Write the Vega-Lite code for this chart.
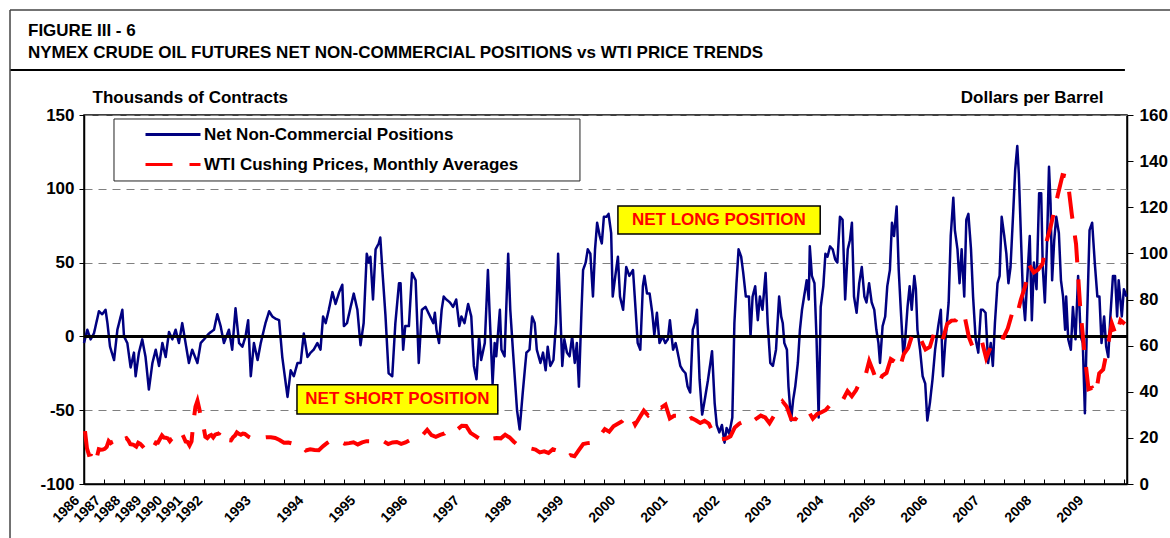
{
"$schema":"https://vega.github.io/schema/vega-lite/v6.json",
"width":1043,"height":369,
"autosize":{"type":"none"},
"padding":{"left":84,"top":115,"right":43,"bottom":54},
"background":"white",
"datasets":{
"cot":[
{"t":1986.00,"v":-4.5},{"t":1986.14,"v":4.5},{"t":1986.28,"v":-2},{"t":1986.42,"v":2},{"t":1986.63,"v":17},{"t":1986.77,"v":15},{"t":1986.91,"v":18},{"t":1986.99,"v":9},{"t":1987.10,"v":-7},{"t":1987.27,"v":-16},{"t":1987.41,"v":4.5},{"t":1987.62,"v":18},{"t":1987.69,"v":0},{"t":1987.83,"v":-4.5},{"t":1987.97,"v":-21},{"t":1988.11,"v":-11},{"t":1988.18,"v":-27},{"t":1988.32,"v":-11},{"t":1988.46,"v":-2},{"t":1988.60,"v":-14},{"t":1988.74,"v":-36},{"t":1988.89,"v":-18},{"t":1989.03,"v":-9},{"t":1989.17,"v":-20},{"t":1989.31,"v":-4.5},{"t":1989.45,"v":-14},{"t":1989.59,"v":3},{"t":1989.73,"v":-2},{"t":1989.87,"v":4.5},{"t":1990.01,"v":-4.5},{"t":1990.15,"v":9},{"t":1990.29,"v":-4.5},{"t":1990.43,"v":-18},{"t":1990.57,"v":-9},{"t":1990.79,"v":-18},{"t":1990.93,"v":-4.5},{"t":1991.07,"v":-2},{"t":1991.28,"v":2},{"t":1991.49,"v":4.5},{"t":1991.63,"v":15},{"t":1991.77,"v":7},{"t":1991.91,"v":-4.5},{"t":1992.12,"v":4.5},{"t":1992.26,"v":-9},{"t":1992.40,"v":19},{"t":1992.55,"v":-4.5},{"t":1992.69,"v":-7},{"t":1992.81,"v":0},{"t":1992.86,"v":11},{"t":1992.91,"v":-27},{"t":1992.97,"v":-4.5},{"t":1993.04,"v":-16},{"t":1993.10,"v":-4.5},{"t":1993.19,"v":9},{"t":1993.26,"v":17},{"t":1993.32,"v":13.5},{"t":1993.38,"v":12},{"t":1993.45,"v":11},{"t":1993.51,"v":-14},{"t":1993.61,"v":-41},{"t":1993.67,"v":-23},{"t":1993.73,"v":-27},{"t":1993.80,"v":-18},{"t":1993.86,"v":-18},{"t":1993.92,"v":2},{"t":1993.99,"v":-14},
{"t":1994.05,"v":-11},{"t":1994.11,"v":-9},{"t":1994.18,"v":-4.5},{"t":1994.24,"v":-9},{"t":1994.29,"v":13.5},{"t":1994.34,"v":9},{"t":1994.40,"v":18},{"t":1994.47,"v":30},{"t":1994.53,"v":22},{"t":1994.60,"v":30},{"t":1994.66,"v":35},{"t":1994.69,"v":7},{"t":1994.75,"v":9},{"t":1994.82,"v":20},{"t":1994.88,"v":29},{"t":1994.95,"v":18},{"t":1995.01,"v":-6},{"t":1995.07,"v":9},{"t":1995.13,"v":56},{"t":1995.17,"v":50},{"t":1995.20,"v":54},{"t":1995.25,"v":25},{"t":1995.30,"v":59},{"t":1995.33,"v":61},{"t":1995.36,"v":63},{"t":1995.39,"v":67},{"t":1995.43,"v":45},{"t":1995.49,"v":14},{"t":1995.55,"v":-25},{"t":1995.62,"v":-27},{"t":1995.68,"v":9},{"t":1995.75,"v":36},{"t":1995.78,"v":36},{"t":1995.83,"v":-9},{"t":1995.87,"v":7},{"t":1995.94,"v":7},{"t":1996.00,"v":43},{"t":1996.07,"v":38},{"t":1996.13,"v":-18},{"t":1996.19,"v":18},{"t":1996.26,"v":20},
{"t":1996.41,"v":9},{"t":1996.44,"v":16},{"t":1996.47,"v":4.5},{"t":1996.52,"v":-4.5},{"t":1996.57,"v":18},{"t":1996.61,"v":27},{"t":1996.66,"v":25},{"t":1996.73,"v":23},{"t":1996.79,"v":20},{"t":1996.85,"v":25},{"t":1996.91,"v":7},{"t":1996.95,"v":13.5},{"t":1997.01,"v":9},{"t":1997.08,"v":22},{"t":1997.14,"v":13.5},{"t":1997.19,"v":-20},{"t":1997.24,"v":-29},{"t":1997.29,"v":0},{"t":1997.33,"v":-16},{"t":1997.40,"v":-4.5},{"t":1997.46,"v":45},{"t":1997.49,"v":18},{"t":1997.55,"v":-32},{"t":1997.59,"v":-4.5},{"t":1997.62,"v":-13.5},{"t":1997.69,"v":18},{"t":1997.72,"v":-9},{"t":1997.78,"v":-13.5},{"t":1997.85,"v":56},{"t":1997.89,"v":18},{"t":1997.94,"v":-9},{"t":1998.02,"v":-50},{"t":1998.07,"v":-63},{"t":1998.13,"v":-38},{"t":1998.20,"v":-11},{"t":1998.26,"v":-9},{"t":1998.31,"v":13.5},{"t":1998.36,"v":9},{"t":1998.40,"v":-9},{"t":1998.47,"v":-18},{"t":1998.52,"v":-11},{"t":1998.57,"v":-23},{"t":1998.61,"v":-7},{"t":1998.66,"v":-20},{"t":1998.72,"v":-16},{"t":1998.77,"v":9},{"t":1998.81,"v":56},{"t":1998.85,"v":18},{"t":1998.89,"v":-20},{"t":1998.93,"v":-2},{"t":1998.98,"v":-11},{"t":1999.03,"v":-13.5},{"t":1999.08,"v":0},{"t":1999.13,"v":-18},{"t":1999.17,"v":-4.5},{"t":1999.21,"v":-34},{"t":1999.26,"v":18},{"t":1999.29,"v":45},{"t":1999.34,"v":50},{"t":1999.38,"v":59},{"t":1999.43,"v":56},{"t":1999.48,"v":27},{"t":1999.52,"v":59},{"t":1999.56,"v":77},{"t":1999.61,"v":68},{"t":1999.65,"v":63},{"t":1999.69,"v":81},{"t":1999.74,"v":81},{"t":1999.78,"v":83},{"t":1999.83,"v":70},{"t":1999.86,"v":27},{"t":1999.91,"v":41},{"t":1999.96,"v":54},
{"t":2000.00,"v":27},{"t":2000.06,"v":18},{"t":2000.12,"v":47},{"t":2000.18,"v":41},{"t":2000.25,"v":45},{"t":2000.30,"v":18},{"t":2000.34,"v":-4.5},{"t":2000.39,"v":-9},{"t":2000.44,"v":34},{"t":2000.47,"v":41},{"t":2000.52,"v":29},{"t":2000.57,"v":29},{"t":2000.62,"v":16},{"t":2000.66,"v":1},{"t":2000.71,"v":16},{"t":2000.76,"v":-4.5},{"t":2000.82,"v":0},{"t":2000.87,"v":-4.5},{"t":2000.92,"v":-2},{"t":2000.96,"v":11},{"t":2001.02,"v":-9},{"t":2001.07,"v":-4.5},{"t":2001.11,"v":-11},{"t":2001.16,"v":-20},{"t":2001.21,"v":-23},{"t":2001.26,"v":-25},{"t":2001.30,"v":-34},{"t":2001.35,"v":-38},{"t":2001.40,"v":4.5},{"t":2001.44,"v":9},{"t":2001.48,"v":18},{"t":2001.53,"v":-29},{"t":2001.58,"v":-53},{"t":2001.62,"v":-45},{"t":2001.69,"v":-30},{"t":2001.77,"v":-10},{"t":2001.82,"v":-45},{"t":2001.86,"v":-60},{"t":2001.91,"v":-65},{"t":2001.96,"v":-60},{"t":2002.01,"v":-72},{"t":2002.05,"v":-62},{"t":2002.10,"v":-66},{"t":2002.16,"v":-55},{"t":2002.20,"v":9},{"t":2002.24,"v":36},{"t":2002.28,"v":59},{"t":2002.33,"v":54},{"t":2002.37,"v":43},{"t":2002.42,"v":27},{"t":2002.48,"v":27},{"t":2002.51,"v":0},{"t":2002.55,"v":27},{"t":2002.60,"v":34},{"t":2002.65,"v":11},{"t":2002.69,"v":27},{"t":2002.74,"v":18},{"t":2002.80,"v":43},{"t":2002.84,"v":9},{"t":2002.89,"v":-18},{"t":2002.94,"v":-20},{"t":2003.00,"v":-9},
{"t":2003.06,"v":27},{"t":2003.10,"v":13.5},{"t":2003.13,"v":9},{"t":2003.16,"v":-4.5},{"t":2003.21,"v":-9},{"t":2003.24,"v":-34},{"t":2003.29,"v":-57},{"t":2003.33,"v":-43},{"t":2003.37,"v":-34},{"t":2003.42,"v":-18},{"t":2003.46,"v":4.5},{"t":2003.50,"v":18},{"t":2003.54,"v":27},{"t":2003.59,"v":38},{"t":2003.63,"v":25},{"t":2003.65,"v":61},{"t":2003.69,"v":41},{"t":2003.74,"v":36},{"t":2003.78,"v":-2},{"t":2003.82,"v":-55},{"t":2003.86,"v":20},{"t":2003.91,"v":34},{"t":2003.95,"v":56},{"t":2003.99,"v":54},{"t":2004.04,"v":61},{"t":2004.09,"v":59},{"t":2004.14,"v":52},{"t":2004.18,"v":50},{"t":2004.23,"v":81},{"t":2004.28,"v":79},{"t":2004.33,"v":25},{"t":2004.38,"v":59},{"t":2004.42,"v":65},{"t":2004.46,"v":77},{"t":2004.50,"v":27},{"t":2004.55,"v":16},{"t":2004.60,"v":36},{"t":2004.65,"v":47},{"t":2004.70,"v":27},{"t":2004.74,"v":23},{"t":2004.79,"v":36},{"t":2004.84,"v":23},{"t":2004.89,"v":18},{"t":2004.93,"v":4.5},{"t":2004.97,"v":-4.5},{"t":2005.00,"v":-18},{"t":2005.05,"v":7},{"t":2005.10,"v":13.5},{"t":2005.14,"v":34},{"t":2005.19,"v":45},{"t":2005.23,"v":77},{"t":2005.27,"v":68},{"t":2005.32,"v":88},{"t":2005.36,"v":45},{"t":2005.40,"v":18},{"t":2005.45,"v":-13.5},{"t":2005.48,"v":-4.5},{"t":2005.53,"v":20},{"t":2005.57,"v":34},{"t":2005.61,"v":18},{"t":2005.66,"v":41},{"t":2005.69,"v":32},{"t":2005.72,"v":4.5},{"t":2005.77,"v":-9},{"t":2005.82,"v":-27},{"t":2005.87,"v":-32},{"t":2005.91,"v":-57},{"t":2005.96,"v":-45},{"t":2006.01,"v":-29},{"t":2006.06,"v":-9},{"t":2006.12,"v":7},{"t":2006.17,"v":18},{"t":2006.21,"v":-27},{"t":2006.26,"v":-2},{"t":2006.32,"v":23},{"t":2006.36,"v":68},{"t":2006.41,"v":94},{"t":2006.44,"v":72},{"t":2006.49,"v":59},{"t":2006.53,"v":36},{"t":2006.57,"v":59},{"t":2006.62,"v":27},{"t":2006.66,"v":79},{"t":2006.70,"v":83},{"t":2006.75,"v":59},{"t":2006.79,"v":27},{"t":2006.84,"v":-2},{"t":2006.89,"v":-11},{"t":2006.94,"v":18},{"t":2006.98,"v":18},
{"t":2007.03,"v":16},{"t":2007.08,"v":-18},{"t":2007.13,"v":-4.5},{"t":2007.17,"v":-20},{"t":2007.21,"v":9},{"t":2007.26,"v":36},{"t":2007.30,"v":41},{"t":2007.34,"v":81},{"t":2007.39,"v":68},{"t":2007.43,"v":56},{"t":2007.47,"v":36},{"t":2007.51,"v":47},{"t":2007.56,"v":83},{"t":2007.60,"v":113},{"t":2007.64,"v":129},{"t":2007.67,"v":110},{"t":2007.71,"v":68},{"t":2007.75,"v":27},{"t":2007.79,"v":11},{"t":2007.83,"v":38},{"t":2007.88,"v":68},{"t":2007.92,"v":11},{"t":2007.96,"v":50},{"t":2008.01,"v":32},{"t":2008.06,"v":97},{"t":2008.10,"v":97},{"t":2008.13,"v":47},{"t":2008.17,"v":23},{"t":2008.21,"v":61},{"t":2008.25,"v":115},{"t":2008.28,"v":90},{"t":2008.31,"v":38},{"t":2008.35,"v":65},{"t":2008.39,"v":81},{"t":2008.44,"v":70},{"t":2008.48,"v":38},{"t":2008.52,"v":27},{"t":2008.56,"v":4.5},{"t":2008.58,"v":27},{"t":2008.62,"v":-2},{"t":2008.67,"v":-9},{"t":2008.71,"v":20},{"t":2008.76,"v":-2},{"t":2008.81,"v":41},{"t":2008.86,"v":0},{"t":2008.90,"v":-4.5},{"t":2008.94,"v":-52},{"t":2008.98,"v":9},{"t":2009.03,"v":72},{"t":2009.08,"v":77},{"t":2009.13,"v":50},{"t":2009.18,"v":27},{"t":2009.22,"v":27},{"t":2009.26,"v":-4.5},{"t":2009.31,"v":13.5},{"t":2009.35,"v":-7},{"t":2009.39,"v":-14},{"t":2009.43,"v":13.5},{"t":2009.48,"v":41},{"t":2009.52,"v":41},{"t":2009.56,"v":13.5},{"t":2009.59,"v":38},{"t":2009.65,"v":13.5},{"t":2009.69,"v":32},{"t":2009.74,"v":27}
],
"wti":[
{"t":1986.042,"p":22.93},{"t":1986.125,"p":15.46},{"t":1986.208,"p":12.61},{"t":1986.292,"p":12.84},{"t":1986.375,"p":15.38},{"t":1986.458,"p":13.43},{"t":1986.542,"p":11.59},{"t":1986.625,"p":15.1},{"t":1986.708,"p":14.87},{"t":1986.792,"p":14.9},{"t":1986.875,"p":15.22},{"t":1986.958,"p":16.11},
{"t":1987.042,"p":18.65},{"t":1987.125,"p":17.75},{"t":1987.208,"p":18.3},{"t":1987.292,"p":18.68},{"t":1987.375,"p":19.44},{"t":1987.458,"p":20.07},{"t":1987.542,"p":21.34},{"t":1987.625,"p":20.31},{"t":1987.708,"p":19.53},{"t":1987.792,"p":19.86},{"t":1987.875,"p":18.85},{"t":1987.958,"p":17.28},
{"t":1988.042,"p":17.13},{"t":1988.125,"p":16.8},{"t":1988.208,"p":16.2},{"t":1988.292,"p":17.86},{"t":1988.375,"p":17.42},{"t":1988.458,"p":16.53},{"t":1988.542,"p":15.5},{"t":1988.625,"p":15.52},{"t":1988.708,"p":14.54},{"t":1988.792,"p":13.77},{"t":1988.875,"p":14.14},{"t":1988.958,"p":16.38},
{"t":1989.042,"p":18.02},{"t":1989.125,"p":17.94},{"t":1989.208,"p":19.48},{"t":1989.292,"p":21.07},{"t":1989.375,"p":20.12},{"t":1989.458,"p":20.05},{"t":1989.542,"p":19.78},{"t":1989.625,"p":18.58},{"t":1989.708,"p":19.59},{"t":1989.792,"p":20.1},{"t":1989.875,"p":19.86},{"t":1989.958,"p":21.1},
{"t":1990.042,"p":22.86},{"t":1990.125,"p":22.11},{"t":1990.208,"p":20.39},{"t":1990.292,"p":18.43},{"t":1990.375,"p":18.2},{"t":1990.458,"p":16.7},{"t":1990.542,"p":18.45},{"t":1990.625,"p":27.31},{"t":1990.708,"p":33.51},{"t":1990.792,"p":36.04},{"t":1990.875,"p":32.33},{"t":1990.958,"p":27.28},
{"t":1991.042,"p":25.23},{"t":1991.125,"p":20.48},{"t":1991.208,"p":19.9},{"t":1991.292,"p":20.83},{"t":1991.375,"p":21.23},{"t":1991.458,"p":20.19},{"t":1991.542,"p":21.4},{"t":1991.625,"p":21.69},{"t":1991.708,"p":21.89},{"t":1991.792,"p":23.23},{"t":1991.875,"p":22.46},{"t":1991.958,"p":19.5},
{"t":1992.042,"p":18.79},{"t":1992.125,"p":19.01},{"t":1992.208,"p":18.92},{"t":1992.292,"p":20.23},{"t":1992.375,"p":20.98},{"t":1992.458,"p":22.39},{"t":1992.542,"p":21.78},{"t":1992.625,"p":21.34},{"t":1992.708,"p":21.88},{"t":1992.792,"p":21.69},{"t":1992.875,"p":20.34},{"t":1992.958,"p":19.41},
{"t":1993.042,"p":19.03},{"t":1993.125,"p":20.09},{"t":1993.208,"p":20.32},{"t":1993.292,"p":20.25},{"t":1993.375,"p":19.95},{"t":1993.458,"p":19.09},{"t":1993.542,"p":17.89},{"t":1993.625,"p":18.01},{"t":1993.708,"p":17.5},{"t":1993.792,"p":18.15},{"t":1993.875,"p":16.61},{"t":1993.958,"p":14.52},
{"t":1994.042,"p":15.03},{"t":1994.125,"p":14.78},{"t":1994.208,"p":14.68},{"t":1994.292,"p":16.42},{"t":1994.375,"p":17.89},{"t":1994.458,"p":19.06},{"t":1994.542,"p":19.66},{"t":1994.625,"p":18.38},{"t":1994.708,"p":17.45},{"t":1994.792,"p":17.72},{"t":1994.875,"p":18.07},{"t":1994.958,"p":17.16},
{"t":1995.042,"p":18.04},{"t":1995.125,"p":18.57},{"t":1995.208,"p":18.54},{"t":1995.292,"p":19.9},{"t":1995.375,"p":19.74},{"t":1995.458,"p":18.45},{"t":1995.542,"p":17.33},{"t":1995.625,"p":18.02},{"t":1995.708,"p":18.23},{"t":1995.792,"p":17.43},{"t":1995.875,"p":17.99},{"t":1995.958,"p":19.03},
{"t":1996.042,"p":18.86},{"t":1996.125,"p":19.09},{"t":1996.208,"p":21.33},{"t":1996.292,"p":23.5},{"t":1996.375,"p":21.17},{"t":1996.458,"p":20.42},{"t":1996.542,"p":21.3},{"t":1996.625,"p":21.9},{"t":1996.708,"p":23.97},{"t":1996.792,"p":24.88},{"t":1996.875,"p":23.71},{"t":1996.958,"p":25.23},
{"t":1997.042,"p":25.13},{"t":1997.125,"p":22.18},{"t":1997.208,"p":20.97},{"t":1997.292,"p":19.7},{"t":1997.375,"p":20.82},{"t":1997.458,"p":19.26},{"t":1997.542,"p":19.66},{"t":1997.625,"p":19.95},{"t":1997.708,"p":19.8},{"t":1997.792,"p":21.33},{"t":1997.875,"p":20.19},{"t":1997.958,"p":18.33},
{"t":1998.042,"p":16.72},{"t":1998.125,"p":16.06},{"t":1998.208,"p":15.12},{"t":1998.292,"p":15.35},{"t":1998.375,"p":14.91},{"t":1998.458,"p":13.72},{"t":1998.542,"p":14.17},{"t":1998.625,"p":13.47},{"t":1998.708,"p":15.03},{"t":1998.792,"p":14.46},{"t":1998.875,"p":13.0},{"t":1998.958,"p":11.35},
{"t":1999.042,"p":12.52},{"t":1999.125,"p":12.01},{"t":1999.208,"p":14.68},{"t":1999.292,"p":17.31},{"t":1999.375,"p":17.72},{"t":1999.458,"p":17.92},{"t":1999.542,"p":20.1},{"t":1999.625,"p":21.28},{"t":1999.708,"p":23.8},{"t":1999.792,"p":22.69},{"t":1999.875,"p":25.0},{"t":1999.958,"p":26.1},
{"t":2000.042,"p":27.26},{"t":2000.125,"p":29.37},{"t":2000.208,"p":29.84},{"t":2000.292,"p":25.72},{"t":2000.375,"p":28.79},{"t":2000.458,"p":31.82},{"t":2000.542,"p":29.7},{"t":2000.625,"p":31.26},{"t":2000.708,"p":33.88},{"t":2000.792,"p":33.11},{"t":2000.875,"p":34.42},{"t":2000.958,"p":28.44},
{"t":2001.042,"p":29.59},{"t":2001.125,"p":29.61},{"t":2001.208,"p":27.25},{"t":2001.292,"p":27.49},{"t":2001.375,"p":28.63},{"t":2001.458,"p":27.6},{"t":2001.542,"p":26.43},{"t":2001.625,"p":27.37},{"t":2001.708,"p":26.2},{"t":2001.792,"p":22.17},{"t":2001.875,"p":19.64},{"t":2001.958,"p":19.39},
{"t":2002.042,"p":19.72},{"t":2002.125,"p":20.72},{"t":2002.208,"p":24.53},{"t":2002.292,"p":26.18},{"t":2002.375,"p":27.04},{"t":2002.458,"p":25.52},{"t":2002.542,"p":26.97},{"t":2002.625,"p":28.39},{"t":2002.708,"p":29.66},{"t":2002.792,"p":28.84},{"t":2002.875,"p":26.35},{"t":2002.958,"p":29.46},
{"t":2003.042,"p":32.95},{"t":2003.125,"p":35.83},{"t":2003.208,"p":33.51},{"t":2003.292,"p":28.17},{"t":2003.375,"p":28.11},{"t":2003.458,"p":30.66},{"t":2003.542,"p":30.76},{"t":2003.625,"p":31.57},{"t":2003.708,"p":28.31},{"t":2003.792,"p":30.34},{"t":2003.875,"p":31.11},{"t":2003.958,"p":32.13},
{"t":2004.042,"p":34.31},{"t":2004.125,"p":34.69},{"t":2004.208,"p":36.74},{"t":2004.292,"p":36.75},{"t":2004.375,"p":40.28},{"t":2004.458,"p":38.03},{"t":2004.542,"p":40.78},{"t":2004.625,"p":44.9},{"t":2004.708,"p":45.94},{"t":2004.792,"p":53.28},{"t":2004.875,"p":48.47},{"t":2004.958,"p":43.15},
{"t":2005.042,"p":46.84},{"t":2005.125,"p":48.15},{"t":2005.208,"p":54.19},{"t":2005.292,"p":52.98},{"t":2005.375,"p":49.83},{"t":2005.458,"p":56.35},{"t":2005.542,"p":59.0},{"t":2005.625,"p":64.99},{"t":2005.708,"p":65.59},{"t":2005.792,"p":62.26},{"t":2005.875,"p":58.32},{"t":2005.958,"p":59.41},
{"t":2006.042,"p":65.49},{"t":2006.125,"p":61.63},{"t":2006.208,"p":62.69},{"t":2006.292,"p":69.44},{"t":2006.375,"p":70.84},{"t":2006.458,"p":70.95},{"t":2006.542,"p":74.41},{"t":2006.625,"p":73.04},{"t":2006.708,"p":63.8},{"t":2006.792,"p":58.89},{"t":2006.875,"p":59.08},{"t":2006.958,"p":61.96},
{"t":2007.042,"p":54.51},{"t":2007.125,"p":59.28},{"t":2007.208,"p":60.44},{"t":2007.292,"p":63.98},{"t":2007.375,"p":63.46},{"t":2007.458,"p":67.49},{"t":2007.542,"p":74.12},{"t":2007.625,"p":72.36},{"t":2007.708,"p":79.92},{"t":2007.792,"p":85.8},{"t":2007.875,"p":94.77},{"t":2007.958,"p":91.69},
{"t":2008.042,"p":92.97},{"t":2008.125,"p":95.39},{"t":2008.208,"p":105.45},{"t":2008.292,"p":112.58},{"t":2008.420,"p":125.4},{"t":2008.510,"p":133.88},{"t":2008.600,"p":133.37},{"t":2008.690,"p":116.67},{"t":2008.770,"p":104.11},{"t":2008.850,"p":76.61},{"t":2008.930,"p":57.31},{"t":2009.010,"p":41.12},
{"t":2009.080,"p":41.71},{"t":2009.150,"p":39.09},{"t":2009.215,"p":47.94},{"t":2009.292,"p":49.65},{"t":2009.375,"p":59.03},{"t":2009.458,"p":69.64},{"t":2009.542,"p":64.15},{"t":2009.625,"p":71.05},{"t":2009.708,"p":69.41}
]
},
"layer":[
{"layer":[
{"data":{"values":[{}]},"mark":{"type":"rect","fill":"white","stroke":"#222222","strokeWidth":1},
"encoding":{"x":{"datum":1987.267,"type":"quantitative"},"x2":{"datum":1999.23},"y":{"datum":147.3,"type":"quantitative"},"y2":{"datum":105.3}}},
{"data":{"name":"cot"},
"mark":{"type":"line","strokeWidth":2.5,"strokeJoin":"round"},
"encoding":{
"x":{"field":"t","type":"quantitative","scale":{"domain":[1986,1992.8,1994,2009.75],"range":[0,161,224,1043],"nice":false,"zero":false},
"axis":{"orient":"bottom","title":null,"values":[1986,1986.89,1987.73,1988.62,1989.5,1990.35,1991.19,1993,1994,1995,1996,1997,1998,1999,2000,2001,2002,2003,2004,2005,2006,2007,2008,2009],"labelExpr":"'' + ceil(datum.value)","ticks":false,"grid":false,"domain":true,"domainColor":"black","domainWidth":1.5,"labelAngle":-45,"labelAlign":"right","labelBaseline":"top","labelOffset":-12,"labelPadding":9,"labelFont":"Liberation Sans","labelFontSize":14,"labelFontWeight":"bold","labelColor":"black","labelOverlap":false,"labelFlush":false}},
"y":{"field":"v","type":"quantitative","scale":{"domain":[-100,150],"nice":false,"zero":false},
"axis":{"orient":"left","values":[-100,-50,0,50,100,150],"labelExpr":"'' + datum.value","title":"Thousands of Contracts","titleAngle":0,"titleAlign":"left","titleBaseline":"alphabetic","titleX":8,"titleY":-13,"titleFont":"Liberation Sans","titleFontSize":17,"titleFontWeight":"bold","titleColor":"black","labelFont":"Liberation Sans","labelFontSize":17,"labelFontWeight":"bold","labelColor":"black","tickSize":5,"tickColor":"black","labelPadding":5,"domainColor":"black","domainWidth":1.5,"grid":true,"gridDash":[8,6],"gridColor":"#808080","gridWidth":1.2}},
"color":{"datum":"Net Non-Commercial Positions","type":"nominal","scale":{"domain":["Net Non-Commercial Positions","WTI Cushing Prices, Monthly Averages"],"range":["#000080","#FF0000"]},"legend":{"title":null,"orient":"none","legendX":30,"legendY":4}},
"strokeDash":{"datum":"Net Non-Commercial Positions","type":"nominal","scale":{"domain":["Net Non-Commercial Positions","WTI Cushing Prices, Monthly Averages"],"range":[[1,0],[27,17]]},"legend":{"title":null,"orient":"none","legendX":30,"legendY":4}}
}},
{"data":{"values":[{}]},"mark":{"type":"rule","color":"black","strokeWidth":3},
"encoding":{"y":{"datum":0,"type":"quantitative"}}},
{"data":{"values":[{}]},"mark":{"type":"rect","fill":"#FFFF00","stroke":"black","strokeWidth":1.5},
"encoding":{"x":{"datum":1999.96,"type":"quantitative"},"x2":{"datum":2003.85},"y":{"datum":88.4,"type":"quantitative"},"y2":{"datum":69.3}}},
{"data":{"values":[{}]},"mark":{"type":"text","text":"NET LONG POSITION","color":"#FF0000","font":"Liberation Sans","fontSize":17,"fontWeight":"bold","align":"center","baseline":"middle"},
"encoding":{"x":{"datum":2001.9,"type":"quantitative"},"y":{"datum":78.9,"type":"quantitative"}}},
{"data":{"values":[{}]},"mark":{"type":"rect","fill":"#FFFF00","stroke":"black","strokeWidth":1.5},
"encoding":{"x":{"datum":1993.79,"type":"quantitative"},"x2":{"datum":1997.65},"y":{"datum":-32.8,"type":"quantitative"},"y2":{"datum":-52.6}}},
{"data":{"values":[{}]},"mark":{"type":"text","text":"NET SHORT POSITION","color":"#FF0000","font":"Liberation Sans","fontSize":17,"fontWeight":"bold","align":"center","baseline":"middle"},
"encoding":{"x":{"datum":1995.72,"type":"quantitative"},"y":{"datum":-42.7,"type":"quantitative"}}},
{"data":{"values":[{}]},"mark":{"type":"text","text":"FIGURE III - 6","color":"black","font":"Liberation Sans","fontSize":17,"fontWeight":"bold","align":"left","baseline":"alphabetic"},
"encoding":{"x":{"datum":1983.635,"type":"quantitative"},"y":{"datum":203.5,"type":"quantitative"}}},
{"data":{"values":[{}]},"mark":{"type":"text","text":"NYMEX CRUDE OIL FUTURES NET NON-COMMERCIAL POSITIONS vs WTI PRICE TRENDS","color":"black","font":"Liberation Sans","fontSize":17,"fontWeight":"bold","align":"left","baseline":"alphabetic"},
"encoding":{"x":{"datum":1983.635,"type":"quantitative"},"y":{"datum":188.6,"type":"quantitative"}}},
{"data":{"values":[{}]},"mark":{"type":"rule","color":"black","strokeWidth":2},
"encoding":{"x":{"datum":1982.875,"type":"quantitative"},"x2":{"datum":2009.71},"y":{"datum":180.5,"type":"quantitative"}}},
{"data":{"values":[{}]},"mark":{"type":"rule","color":"#444444","strokeWidth":1.5},
"encoding":{"x":{"datum":1982.875,"type":"quantitative"},"x2":{"datum":2011},"y":{"datum":221.1,"type":"quantitative"}}},
{"data":{"values":[{}]},"mark":{"type":"rule","color":"#444444","strokeWidth":1.5},
"encoding":{"x":{"datum":1982.875,"type":"quantitative"},"y":{"datum":221.1,"type":"quantitative"},"y2":{"datum":-140}}}
]},
{"data":{"name":"wti"},
"mark":{"type":"line","strokeWidth":4,"strokeCap":"butt"},
"encoding":{
"x":{"field":"t","type":"quantitative","scale":{"domain":[1986,1992.8,1994,2009.75],"range":[0,161,224,1043],"nice":false,"zero":false},
"axis":{"orient":"bottom","title":null,"labels":false,"domain":false,"grid":false,"ticks":true,"tickSize":-5,"tickColor":"black","tickWidth":1,
"values":[1986,1986.845,1987.689,1988.534,1989.378,1990.223,1991.068,1991.912,1992.757,1993.162,1993.543,1993.924,1994.308,1994.692,1995.077,1995.462,1995.846,1996.231,1996.615,1997.0,1997.385,1997.769,1998.154,1998.538,1998.923,1999.308,1999.692,2000.077,2000.462,2000.846,2001.231,2001.615,2002.0,2002.385,2002.769,2003.154,2003.538,2003.923,2004.308,2004.692,2005.077,2005.462,2005.846,2006.231,2006.615,2007.0,2007.385,2007.769,2008.154,2008.538,2008.923,2009.308,2009.692]}},
"y":{"field":"p","type":"quantitative","scale":{"domain":[0,160],"nice":false,"zero":false},
"axis":{"orient":"right","values":[0,20,40,60,80,100,120,140,160],"title":"Dollars per Barrel","titleAngle":0,"titleAlign":"right","titleBaseline":"alphabetic","titleX":-24,"titleY":-13,"titleFont":"Liberation Sans","titleFontSize":17,"titleFontWeight":"bold","titleColor":"black","labelFont":"Liberation Sans","labelFontSize":17,"labelFontWeight":"bold","labelColor":"black","tickSize":6,"tickColor":"black","labelPadding":6,"domainColor":"black","domainWidth":1.5,"grid":false}},
"color":{"datum":"WTI Cushing Prices, Monthly Averages","type":"nominal","scale":{"domain":["Net Non-Commercial Positions","WTI Cushing Prices, Monthly Averages"],"range":["#000080","#FF0000"]},"legend":{"title":null,"orient":"none","legendX":30,"legendY":4}},
"strokeDash":{"datum":"WTI Cushing Prices, Monthly Averages","type":"nominal","scale":{"domain":["Net Non-Commercial Positions","WTI Cushing Prices, Monthly Averages"],"range":[[1,0],[27,17]]},"legend":{"title":null,"orient":"none","legendX":30,"legendY":4}}
}}
],
"resolve":{"scale":{"y":"independent"},"axis":{"x":"independent","y":"independent"}},
"config":{
"view":{"stroke":"black","strokeWidth":1.5},
"font":"Liberation Sans",
"legend":{"padding":7,"labelFont":"Liberation Sans","labelFontSize":17,"labelFontWeight":"bold","labelColor":"black","symbolSize":3025,"symbolStrokeWidth":3,"symbolType":"stroke","labelOffset":2,"symbolOffset":23,"rowPadding":12,"clipHeight":17,"labelLimit":0}
}
}
